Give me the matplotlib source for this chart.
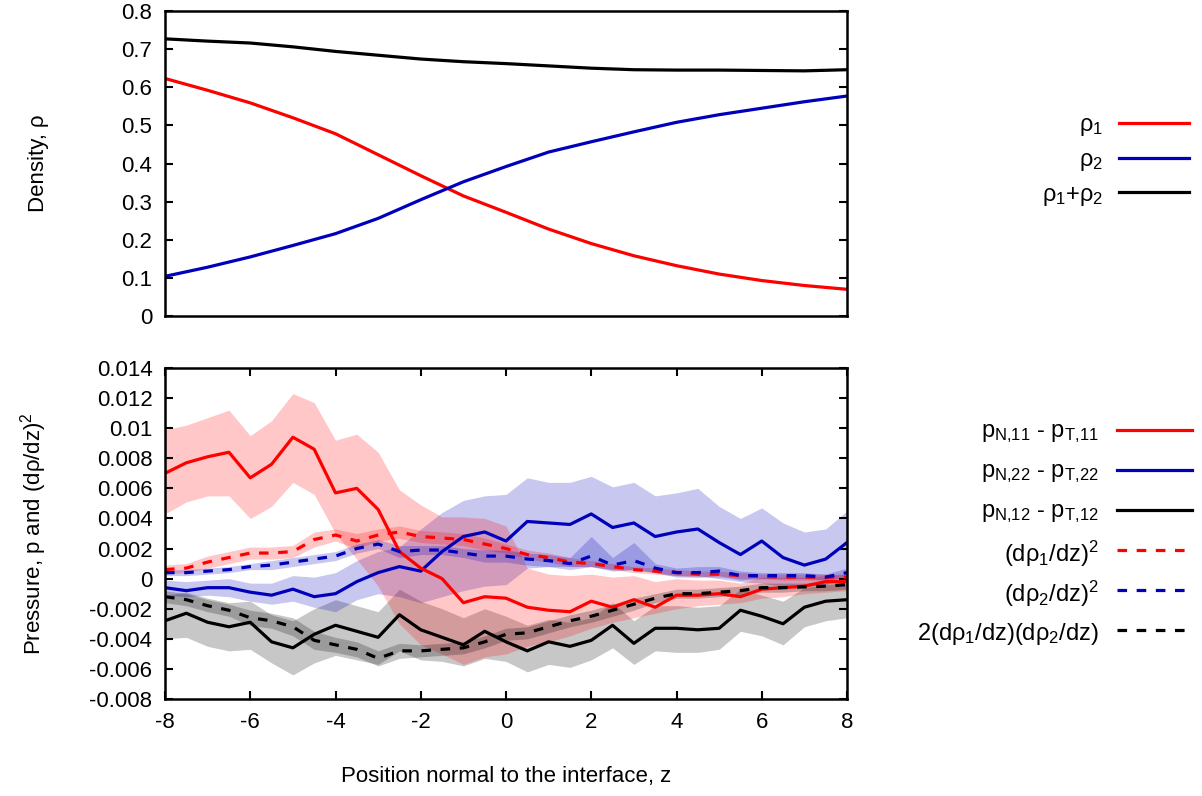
# -*- coding:utf-8 -*-
import numpy as np
import matplotlib
matplotlib.use('Agg')
import matplotlib.pyplot as plt
from matplotlib.lines import Line2D
from matplotlib.ticker import FuncFormatter, MultipleLocator

plt.rcParams['font.family'] = ['Liberation Sans', 'DejaVu Sans']
plt.rcParams['mathtext.fontset'] = 'custom'
plt.rcParams['mathtext.rm'] = 'Liberation Sans'
plt.rcParams['mathtext.default'] = 'regular'
plt.rcParams['axes.unicode_minus'] = False

RED = '#ff0000'
BLUE = '#0000bb'
BLACK = '#000000'
FILL_ALPHA = 0.22

# ---- top panel: density profiles ----
z_rho = [-8, -7, -6, -5, -4, -3, -2, -1, 0, 1, 2, 3, 4, 5, 6, 7, 8]
rho1 = [0.623, 0.592, 0.559, 0.520, 0.478, 0.423, 0.368, 0.315, 0.272,
        0.228, 0.190, 0.158, 0.132, 0.110, 0.093, 0.080, 0.070]
rho2 = [0.104, 0.128, 0.155, 0.185, 0.216, 0.256, 0.305, 0.352, 0.392,
        0.430, 0.457, 0.483, 0.508, 0.528, 0.545, 0.562, 0.577]
rho_sum = [0.727, 0.721, 0.716, 0.706, 0.694, 0.684, 0.674, 0.667, 0.662,
           0.656, 0.650, 0.646, 0.645, 0.645, 0.644, 0.643, 0.646]

# ---- bottom panel: pressure differences and gradient terms ----
z = [-8.0, -7.5, -7.0, -6.5, -6.0, -5.5, -5.0, -4.5, -4.0, -3.5, -3.0,
     -2.5, -2.0, -1.5, -1.0, -0.5, 0.0, 0.5, 1.0, 1.5, 2.0, 2.5, 3.0,
     3.5, 4.0, 4.5, 5.0, 5.5, 6.0, 6.5, 7.0, 7.5, 8.0]

p11 = [0.0070, 0.0077, 0.0081, 0.0084, 0.0067, 0.0076, 0.0094, 0.0086, 0.0057,
       0.0060, 0.0046, 0.0018, 0.0007, 0.0000, -0.0016, -0.0012, -0.0013,
       -0.0019, -0.0021, -0.0022, -0.0015, -0.0019, -0.0014, -0.0019, -0.0011,
       -0.0011, -0.0010, -0.0012, -0.0007, -0.0006, -0.0005, -0.0002, -0.0002]
p11_hi = [0.0099, 0.0102, 0.0107, 0.0112, 0.0095, 0.0105, 0.0123, 0.0117, 0.0092,
          0.0096, 0.0084, 0.0059, 0.0049, 0.0041, 0.0041, 0.0040, 0.0035,
          0.0007, 0.0003, 0.0002, 0.0003, 0.0001, 0.0002, -0.0002, 0.0000,
          -0.0001, -0.0001, -0.0003, 0.0001, 0.0001, 0.0001, 0.0002, 0.0003]
p11_lo = [0.0043, 0.0051, 0.0055, 0.0055, 0.0040, 0.0048, 0.0064, 0.0056, 0.0030,
          0.0013, -0.0005, -0.0030, -0.0044, -0.0050, -0.0057, -0.0052, -0.0050,
          -0.0045, -0.0042, -0.0038, -0.0033, -0.0029, -0.0026, -0.0023, -0.0020,
          -0.0018, -0.0017, -0.0016, -0.0013, -0.0012, -0.0010, -0.0009, -0.0008]

p22 = [-0.0006, -0.0008, -0.0006, -0.0006, -0.0009, -0.0011, -0.0007, -0.0012,
       -0.0010, -0.0002, 0.0004, 0.0008, 0.0005, 0.0018, 0.0028, 0.0031, 0.0025,
       0.0038, 0.0037, 0.0036, 0.0043, 0.0034, 0.0037, 0.0028, 0.0031, 0.0033,
       0.0024, 0.0016, 0.0025, 0.0014, 0.0009, 0.0013, 0.0024]
p22_hi = [-0.0001, -0.0002, -0.0001, 0.0000, -0.0003, -0.0003, 0.0002, 0.0001,
          0.0004, 0.0012, 0.0018, 0.0021, 0.0033, 0.0044, 0.0052, 0.0055, 0.0056,
          0.0067, 0.0064, 0.0064, 0.0068, 0.0061, 0.0064, 0.0055, 0.0057, 0.0060,
          0.0048, 0.0040, 0.0047, 0.0037, 0.0031, 0.0033, 0.0045]
p22_lo = [-0.0011, -0.0012, -0.0011, -0.0012, -0.0015, -0.0017, -0.0015, -0.0019,
          -0.0022, -0.0014, -0.0010, -0.0012, -0.0016, -0.0012, -0.0008, -0.0005,
          -0.0004, 0.0007, 0.0008, 0.0008, 0.0008, 0.0006, 0.0006, 0.0004, 0.0002,
          0.0002, 0.0000, -0.0002, -0.0003, -0.0005, -0.0005, -0.0004, 0.0002]

p12 = [-0.0028, -0.0023, -0.0029, -0.0032, -0.0029, -0.0042, -0.0046, -0.0037,
       -0.0031, -0.0035, -0.0039, -0.0024, -0.0034, -0.0039, -0.0044, -0.0035,
       -0.0042, -0.0048, -0.0042, -0.0045, -0.0041, -0.0031, -0.0043, -0.0033,
       -0.0033, -0.0034, -0.0033, -0.0021, -0.0025, -0.0030, -0.0019, -0.0015, -0.0014]
p12_hi = [-0.0011, -0.0009, -0.0013, -0.0016, -0.0015, -0.0024, -0.0028, -0.0020,
          -0.0014, -0.0018, -0.0022, -0.0007, -0.0015, -0.0020, -0.0026, -0.0020,
          -0.0025, -0.0031, -0.0027, -0.0029, -0.0026, -0.0016, -0.0028, -0.0018,
          -0.0018, -0.0019, -0.0018, -0.0007, -0.0011, -0.0015, -0.0006, -0.0004, -0.0003]
p12_lo = [-0.0040, -0.0039, -0.0045, -0.0048, -0.0047, -0.0056, -0.0064, -0.0056,
          -0.0051, -0.0054, -0.0057, -0.0048, -0.0054, -0.0055, -0.0058, -0.0053,
          -0.0055, -0.0062, -0.0057, -0.0059, -0.0054, -0.0046, -0.0057, -0.0048,
          -0.0049, -0.0049, -0.0047, -0.0035, -0.0038, -0.0044, -0.0032, -0.0028, -0.0026]

d1 = [0.0006, 0.0007, 0.0011, 0.0014, 0.0017, 0.0017, 0.0018, 0.0026, 0.0029,
      0.0025, 0.0029, 0.0031, 0.0028, 0.0027, 0.0026, 0.0023, 0.0020, 0.0016,
      0.0014, 0.0011, 0.0010, 0.0008, 0.0006, 0.0005, 0.0004, 0.0003, 0.0003,
      0.0002, 0.00015, 0.0001, 0.0001, 0.0001, 0.0001]
d1_hi = [0.0009, 0.0010, 0.0015, 0.0018, 0.0021, 0.0021, 0.0022, 0.0031, 0.0033,
         0.0030, 0.0033, 0.0035, 0.0032, 0.0031, 0.0030, 0.0027, 0.0023, 0.0019,
         0.0017, 0.0014, 0.0012, 0.0010, 0.0008, 0.0007, 0.0006, 0.0005, 0.0005,
         0.0004, 0.0003, 0.0003, 0.0003, 0.0003, 0.0003]
d1_lo = [0.0003, 0.0004, 0.0007, 0.0010, 0.0013, 0.0013, 0.0014, 0.0021, 0.0025,
         0.0020, 0.0025, 0.0027, 0.0024, 0.0023, 0.0022, 0.0019, 0.0017, 0.0013,
         0.0011, 0.0008, 0.0008, 0.0006, 0.0004, 0.0003, 0.0002, 0.0001, 0.0001,
         0.0000, 0.0000, -0.0001, -0.0001, -0.0001, -0.0001]

d2 = [0.0004, 0.0004, 0.0005, 0.0006, 0.0008, 0.0009, 0.0011, 0.0013, 0.0015,
      0.0020, 0.0023, 0.0018, 0.0019, 0.0019, 0.0017, 0.0015, 0.0015, 0.0013,
      0.0012, 0.0010, 0.0015, 0.0009, 0.0012, 0.0007, 0.0004, 0.0004, 0.0005,
      0.0002, 0.0002, 0.0002, 0.0002, 0.0001, 0.0004]
d2_hi = [0.0006, 0.0006, 0.0007, 0.0008, 0.0010, 0.0012, 0.0014, 0.0016, 0.0018,
         0.0023, 0.0026, 0.0022, 0.0022, 0.0022, 0.0020, 0.0019, 0.0019, 0.0017,
         0.0016, 0.0014, 0.0028, 0.0014, 0.0024, 0.0010, 0.0007, 0.0008, 0.0008,
         0.0005, 0.0004, 0.0004, 0.0004, 0.0003, 0.0007]
d2_lo = [0.0002, 0.0002, 0.0003, 0.0004, 0.0006, 0.0006, 0.0008, 0.0010, 0.0012,
         0.0017, 0.0020, 0.0014, 0.0016, 0.0016, 0.0014, 0.0011, 0.0011, 0.0009,
         0.0008, 0.0006, 0.0008, 0.0005, 0.0006, 0.0004, 0.0001, 0.0001, 0.0002,
         -0.0001, 0.0000, 0.0000, 0.0000, -0.0001, 0.0001]

d12 = [-0.0012, -0.0014, -0.0018, -0.0021, -0.0026, -0.0028, -0.0032, -0.0041,
       -0.0044, -0.0047, -0.0053, -0.0048, -0.0048, -0.0047, -0.0046, -0.0042,
       -0.0037, -0.0036, -0.0032, -0.0028, -0.0025, -0.0021, -0.0017, -0.0013,
       -0.0010, -0.0010, -0.0009, -0.0008, -0.0006, -0.0006, -0.00055, -0.0005, -0.0004]
d12_hi = [-0.0008, -0.0010, -0.0014, -0.0017, -0.0021, -0.0023, -0.0026, -0.0035,
          -0.0039, -0.0042, -0.0048, -0.0043, -0.0044, -0.0043, -0.0042, -0.0038,
          -0.0033, -0.0032, -0.0028, -0.0024, -0.0021, -0.0017, -0.0013, -0.0010,
          -0.0007, -0.0007, -0.0006, -0.0005, -0.0003, -0.0003, -0.0003, -0.0002, -0.0001]
d12_lo = [-0.0016, -0.0018, -0.0022, -0.0025, -0.0031, -0.0033, -0.0038, -0.0047,
          -0.0049, -0.0052, -0.0058, -0.0053, -0.0052, -0.0051, -0.0050, -0.0046,
          -0.0041, -0.0040, -0.0036, -0.0032, -0.0029, -0.0025, -0.0021, -0.0016,
          -0.0013, -0.0013, -0.0012, -0.0011, -0.0009, -0.0009, -0.0008, -0.0008, -0.0007]

top_labels = ['ρ$_1$', 'ρ$_2$', 'ρ$_1$+ρ$_2$']
bottom_labels = ['p$_{N{,}11}$ - p$_{T{,}11}$', 'p$_{N{,}22}$ - p$_{T{,}22}$',
                 'p$_{N{,}12}$ - p$_{T{,}12}$', '(dρ$_1$/dz)$^2$', '(dρ$_2$/dz)$^2$',
                 '2(dρ$_1$/dz)(dρ$_2$/dz)']

W, H = 1202, 796
FS = 16
LEG_FS = 17
LW = 2.3


def style_axes(ax):
    for s in ax.spines.values():
        s.set_linewidth(1.8)
    ax.tick_params(direction='in', length=6, width=1.5, labelsize=FS,
                   top=True, right=True)
    ax.tick_params(axis='y', pad=9)
    ax.yaxis.set_major_formatter(FuncFormatter(lambda v, p: '%g' % round(v, 6)))


def add_legend(fig, labels, colors, styles, ys, text_x, line_x0, line_x1):
    for lab, c, ls, y in zip(labels, colors, styles, ys):
        yf = 1 - y / H
        fig.add_artist(Line2D([line_x0 / W, line_x1 / W], [yf, yf],
                              transform=fig.transFigure, color=c, lw=LW,
                              linestyle=ls, dashes=(3, 3) if ls == '--' else (None, None)))
        fig.text(text_x / W, yf - 4 / H, lab, ha='right', va='center', fontsize=LEG_FS)


def main():
    fig = plt.figure(figsize=(W / 100, H / 100), dpi=100)

    # top panel
    ax1 = fig.add_axes([165 / W, 1 - 316 / H, 682 / W, 305 / H])
    ax1.plot(z_rho, rho1, color=RED, lw=LW)
    ax1.plot(z_rho, rho2, color=BLUE, lw=LW)
    ax1.plot(z_rho, rho_sum, color=BLACK, lw=LW)
    ax1.set_xlim(-8, 8)
    ax1.set_ylim(0, 0.8)
    ax1.yaxis.set_major_locator(MultipleLocator(0.1))
    style_axes(ax1)
    ax1.tick_params(axis='x', which='both', bottom=False, top=False, labelbottom=False)
    ax1.set_ylabel('Density, ρ', fontsize=FS)
    ax1.yaxis.set_label_coords(-0.17, 0.5)

    # bottom panel
    ax2 = fig.add_axes([165 / W, 1 - 699 / H, 682 / W, 331 / H])
    # solid series: band then line (later bands cover earlier lines)
    ax2.fill_between(z, p12_lo, p12_hi, color=BLACK, alpha=FILL_ALPHA, lw=0)
    ax2.plot(z, p12, color=BLACK, lw=LW)
    ax2.fill_between(z, p22_lo, p22_hi, color=BLUE, alpha=FILL_ALPHA, lw=0)
    ax2.plot(z, p22, color=BLUE, lw=LW)
    ax2.fill_between(z, p11_lo, p11_hi, color=RED, alpha=FILL_ALPHA, lw=0)
    ax2.plot(z, p11, color=RED, lw=LW)
    # gradient terms
    ax2.fill_between(z, d12_lo, d12_hi, color=BLACK, alpha=FILL_ALPHA, lw=0)
    ax2.plot(z, d12, color=BLACK, lw=LW, dashes=(3, 3))
    ax2.fill_between(z, d1_lo, d1_hi, color=RED, alpha=FILL_ALPHA, lw=0)
    ax2.plot(z, d1, color=RED, lw=LW, dashes=(3, 3))
    ax2.fill_between(z, d2_lo, d2_hi, color=BLUE, alpha=FILL_ALPHA, lw=0)
    ax2.plot(z, d2, color=BLUE, lw=LW, dashes=(3, 3))
    ax2.set_xlim(-8, 8)
    ax2.set_ylim(-0.008, 0.014)
    ax2.xaxis.set_major_locator(MultipleLocator(2))
    ax2.yaxis.set_major_locator(MultipleLocator(0.002))
    style_axes(ax2)
    ax2.tick_params(axis='x', pad=9)
    ax2.set_ylabel('Pressure, p and (dρ/dz)$^2$', fontsize=FS)
    ax2.yaxis.set_label_coords(-0.17, 0.5)
    ax2.set_xlabel('Position normal to the interface, z', fontsize=FS, labelpad=24)

    add_legend(fig, top_labels, [RED, BLUE, BLACK], ['-', '-', '-'],
               [123, 158, 192], 1103, 1119, 1189)
    add_legend(fig, bottom_labels, [RED, BLUE, BLACK, RED, BLUE, BLACK],
               ['-', '-', '-', '--', '--', '--'],
               [430, 470, 510, 550, 590, 630], 1099, 1117, 1192)

    fig.savefig('out.png', dpi=100)


if __name__ == "__main__":
    main()
